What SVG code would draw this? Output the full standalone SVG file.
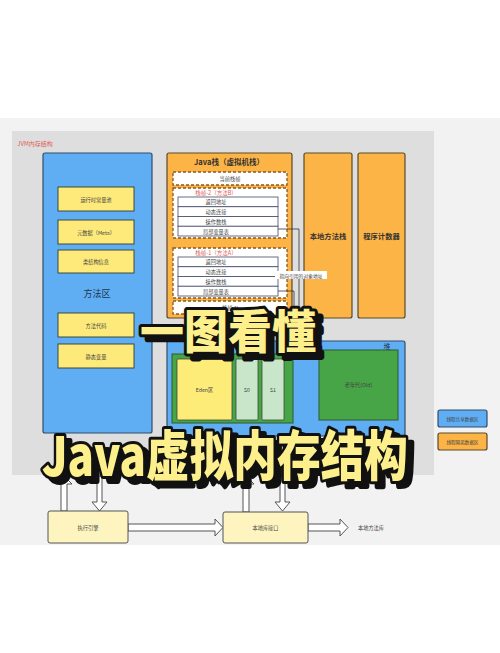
<svg xmlns="http://www.w3.org/2000/svg" width="500" height="653" viewBox="0 0 500 653">
<defs>
<style>
text{font-family:"Noto Sans CJK SC","Noto Sans",sans-serif;text-anchor:middle;dominant-baseline:central}
.blue{fill:#5fadf3;stroke:#2f4d6b;stroke-width:1.2}
.orange{fill:#fdb446;stroke:#5a4a2a;stroke-width:1.2}
.yel{fill:#fdea7a;stroke:#3d4a3a;stroke-width:1}
.dash{fill:#ffffff;stroke:#8a5a20;stroke-width:1.3;stroke-dasharray:3 2}
.row{fill:#ffffff;stroke:#444a66;stroke-width:0.8}
.t5{font-size:5.2px;fill:#444}
.t6{font-size:6px;fill:#333}
.red{font-size:5.5px;fill:#e05a55}
.big{font-size:8px;font-weight:bold;fill:#333}
.conn{fill:none;stroke:#333;stroke-width:0.8}
.barrow{fill:#ffffff;stroke:#555;stroke-width:1}
.title{font-weight:900;fill:#fdf08c;stroke:#111;stroke-width:6;stroke-linejoin:round;paint-order:stroke}
.shadow{font-weight:900;fill:#111;stroke:#111;stroke-width:6;stroke-linejoin:round}
</style>
</defs>
<rect x="0" y="0" width="500" height="653" fill="#ffffff"/>
<rect x="0" y="118" width="500" height="427" fill="#f2f2f2"/>
<rect id="jvm" x="12" y="131" width="422" height="344" fill="#dedede"/>
<text x="35" y="143" class="red" style="font-size:6px">JVM内存结构</text>

<g id="method-area">
<rect x="43" y="153" width="109" height="280" rx="2" class="blue"/>
<text x="97" y="293" style="font-size:9px;fill:#1d3550">方法区</text>
</g>
<g id="runtime-pool"><rect x="58" y="187" width="76" height="24" class="yel"/><text x="96" y="199" class="t5">运行时常量池</text></g>
<g id="meta"><rect x="58" y="220" width="76" height="24" class="yel"/><text x="96" y="232" class="t5">元数据（Meta）</text></g>
<g id="class-info"><rect x="58" y="250" width="76" height="23" class="yel"/><text x="96" y="261.5" class="t5">类结构信息</text></g>
<g id="method-code"><rect x="58" y="313" width="76" height="24" class="yel"/><text x="96" y="325" class="t5">方法代码</text></g>
<g id="static-var"><rect x="58" y="344" width="76" height="24" class="yel"/><text x="96" y="356" class="t5">静态变量</text></g>

<g id="java-stack">
<rect x="167" y="153" width="125" height="165" rx="2" class="orange"/>
<text x="229" y="161" class="big" style="font-size:7.5px">Java栈（虚拟机栈）</text>
</g>
<g id="current-frame"><rect x="173" y="172" width="114" height="13" class="dash"/><text x="230" y="178.5" class="t5">当前栈帧</text></g>
<g id="frame2">
<rect x="173" y="188" width="114" height="50" class="dash"/>
<text x="216" y="192.5" class="red">栈帧-2（方法B）</text>
<rect x="178" y="197" width="100" height="9.75" class="row"/><text x="216" y="201.9" class="t5">返回地址</text>
<rect x="178" y="206.75" width="100" height="9.75" class="row"/><text x="216" y="211.6" class="t5">动态连接</text>
<rect x="178" y="216.5" width="100" height="9.75" class="row"/><text x="216" y="221.4" class="t5">操作数栈</text>
<rect x="178" y="226.25" width="100" height="9.75" class="row"/><text x="216" y="231.1" class="t5">局部变量表</text>
</g>
<g id="frame1">
<rect x="173" y="248" width="114" height="50" class="dash"/>
<text x="216" y="252.5" class="red">栈帧-1（方法A）</text>
<rect x="178" y="257" width="100" height="9.75" class="row"/><text x="216" y="261.9" class="t5">返回地址</text>
<rect x="178" y="266.75" width="100" height="9.75" class="row"/><text x="216" y="271.6" class="t5">动态连接</text>
<rect x="178" y="276.5" width="100" height="9.75" class="row"/><text x="216" y="281.4" class="t5">操作数栈</text>
<rect x="178" y="286.25" width="100" height="9.75" class="row"/><text x="216" y="291.1" class="t5">局部变量表</text>
</g>
<g id="frame-n"><rect x="173" y="301" width="114" height="13" class="dash"/><text x="230" y="307.5" class="t5">栈帧-N</text></g>

<g id="native-stack"><rect x="304" y="153" width="48" height="165" rx="2" class="orange"/><text x="328" y="236" class="big" style="font-size:7.3px">本地方法栈</text></g>
<g id="pc"><rect x="358" y="153" width="47" height="165" rx="2" class="orange"/><text x="381.5" y="236" class="big" style="font-size:7.3px">程序计数器</text></g>

<g id="heap">
<rect x="167" y="341" width="238" height="95" rx="2" class="blue"/>
<text x="387" y="346" style="font-size:7px;fill:#1d3550">堆</text>
</g>
<g id="young"><rect x="172" y="354" width="121" height="69" fill="#47a447" stroke="#2f5a2f" stroke-width="1"/></g>
<g id="eden"><rect x="177" y="359" width="55" height="61" rx="1" fill="#fdec78" stroke="#3d4a3a" stroke-width="0.8"/><text x="204.5" y="389.5" class="t5">Eden区</text></g>
<g id="s0"><rect x="236" y="359" width="22" height="61" rx="1" fill="#c9e6cb" stroke="#3d4a3a" stroke-width="0.8"/><text x="247" y="389.5" class="t5">S0</text></g>
<g id="s1"><rect x="262" y="359" width="22" height="61" rx="1" fill="#c9e6cb" stroke="#3d4a3a" stroke-width="0.8"/><text x="273" y="389.5" class="t5">S1</text></g>
<g id="old"><rect x="319" y="350" width="79" height="70" fill="#47a447" stroke="#2f5a2f" stroke-width="1"/><text x="358.5" y="384" class="t5">老年代(Old)</text></g>

<g id="connectors">
<polyline class="conn" points="278,229 299,229 299,346"/>
<polyline class="conn" points="278,291 294,291 294,346"/>
<rect x="275" y="271" width="52" height="8" fill="#ffffff"/>
<text x="301" y="275" class="t5" style="font-size:4.8px">指向引用的对象地址</text>
<polygon class="barrow" points="61,511 61,484 56,484 64,476 72,484 67,484 67,511"/>
<polygon class="barrow" points="97,476 102,476 102,502 107,502 99.5,511 92,502 97,502"/>
<polygon class="barrow" points="243,512 243,484 238,484 246,476 254,484 249,484 249,512"/>
<polygon class="barrow" points="280,476 285,476 285,502 290,502 282.5,511 275,502 280,502"/>
<polygon class="barrow" points="128,524 215,524 215,519 223,527.5 215,536 215,531 128,531"/>
<polygon class="barrow" points="308,524 340,524 340,519 348,527.5 340,536 340,531 308,531"/>
</g>

<g id="exec-engine"><rect x="48" y="511" width="80" height="32" rx="2" fill="#fdf4c0" stroke="#555" stroke-width="1"/><text x="88" y="527" class="t5">执行引擎</text></g>
<g id="native-iface"><rect x="223" y="512" width="85" height="31" rx="2" fill="#fdf4c0" stroke="#555" stroke-width="1"/><text x="265.5" y="527.5" class="t5">本地库接口</text></g>
<g id="native-lib"><text x="371" y="527" class="t5">本地方法库</text></g>

<g id="legend-shared"><rect x="438" y="410" width="49" height="17" rx="2" class="blue"/><text x="462.5" y="418.5" class="t5" style="font-size:4.6px">线程共享数据区</text></g>
<g id="legend-isolated"><rect x="438" y="433" width="49" height="17" rx="2" class="orange"/><text x="462.5" y="441.5" class="t5" style="font-size:4.6px">线程隔离数据区</text></g>

<g id="title1">
<text x="231" y="330" class="shadow" style="font-size:46px" dx="3" dy="3" textLength="176" lengthAdjust="spacingAndGlyphs">一图看懂</text>
<text x="228" y="328" class="title" style="font-size:46px" textLength="176" lengthAdjust="spacingAndGlyphs">一图看懂</text>
</g>
<g id="title2">
<text x="228" y="454" class="shadow" style="font-size:54px" dx="3" dy="3" textLength="366" lengthAdjust="spacingAndGlyphs">Java虚拟内存结构</text>
<text x="225" y="452" class="title" style="font-size:54px" textLength="366" lengthAdjust="spacingAndGlyphs">Java虚拟内存结构</text>
</g>
</svg>
